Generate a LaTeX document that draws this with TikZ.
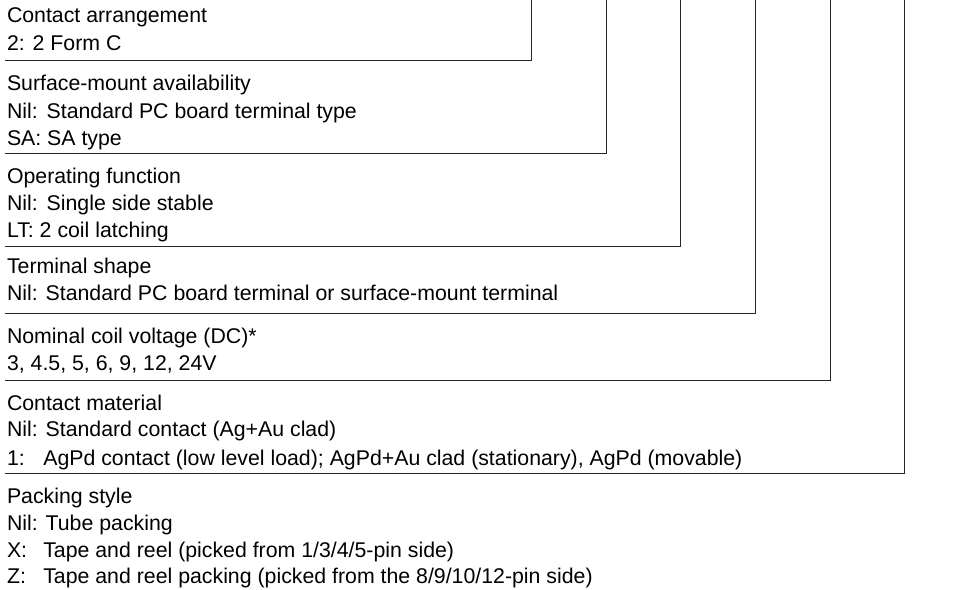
\documentclass[tikz,border=0pt]{standalone}
\usepackage{fontspec}
\setmainfont{Liberation Sans}
\begin{document}
\begin{tikzpicture}[x=1pt,y=-1pt,
  txt/.style={anchor=base west,inner sep=0pt,outer sep=0pt,font=\fontsize{21.3}{25}\selectfont,text=black},
  rule/.style={draw=black!85,line width=1pt}]
\useasboundingbox (0,0) rectangle (971,589);
% group 1
\node[txt] (g1a) at (7,22) {Contact arrangement};
\node[txt] (g1b) at (7,50) {2: 2 Form C};
% group 2
\node[txt] (g2a) at (7,90) {Surface-mount availability};
\node[txt] (g2b) at (7,118) {\makebox[39.7pt][l]{Nil:}Standard PC board terminal type};
\node[txt] (g2c) at (7,145) {SA: SA type};
% group 3
\node[txt] (g3a) at (7,183.3) {Operating function};
\node[txt] (g3b) at (7,210) {\makebox[39.7pt][l]{Nil:}Single side stable};
\node[txt] (g3c) at (7,237.3) {LT: 2 coil latching};
% group 4
\node[txt] (g4a) at (7,273.3) {Terminal shape};
\node[txt] (g4b) at (7,300) {Nil: Standard PC board terminal or surface-mount terminal};
% group 5
\node[txt] (g5a) at (7,343.3) {Nominal coil voltage (DC)*};
\node[txt] (g5b) at (7,370) {3, 4.5, 5, 6, 9, 12, 24V};
% group 6
\node[txt] (g6a) at (7,410) {Contact material};
\node[txt] (g6b) at (7,436.7) {Nil: Standard contact (Ag+Au clad)};
\node[txt] (g6c) at (7,465) {\makebox[36.3pt][l]{1:}AgPd contact (low level load); AgPd+Au clad (stationary), AgPd (movable)};
% group 7
\node[txt] (g7a) at (7,503.3) {Packing style};
\node[txt] (g7b) at (7,530) {Nil: Tube packing};
\node[txt] (g7c) at (7,557.3) {\makebox[36.3pt][l]{X:}Tape and reel (picked from 1/3/4/5-pin side)};
\node[txt] (g7d) at (7,583.3) {\makebox[36.3pt][l]{Z:}Tape and reel packing (picked from the 8/9/10/12-pin side)};
% bracket lines
\coordinate (s1) at (5,60);    \coordinate (c1) at (531.5,60);  \coordinate (t1) at (531.5,0);
\coordinate (s2) at (5,153.5); \coordinate (c2) at (606,153.5); \coordinate (t2) at (606,0);
\coordinate (s3) at (5,246.7); \coordinate (c3) at (680.7,246.7); \coordinate (t3) at (680.7,0);
\coordinate (s4) at (5,313.3); \coordinate (c4) at (755.3,313.3); \coordinate (t4) at (755.3,0);
\coordinate (s5) at (5,380);   \coordinate (c5) at (830,380);   \coordinate (t5) at (830,0);
\coordinate (s6) at (5,473);   \coordinate (c6) at (904.7,473); \coordinate (t6) at (904.7,0);
\foreach \i in {1,...,6} {\draw[rule] (s\i) -- (c\i) -- (t\i);}
\end{tikzpicture}
\end{document}
